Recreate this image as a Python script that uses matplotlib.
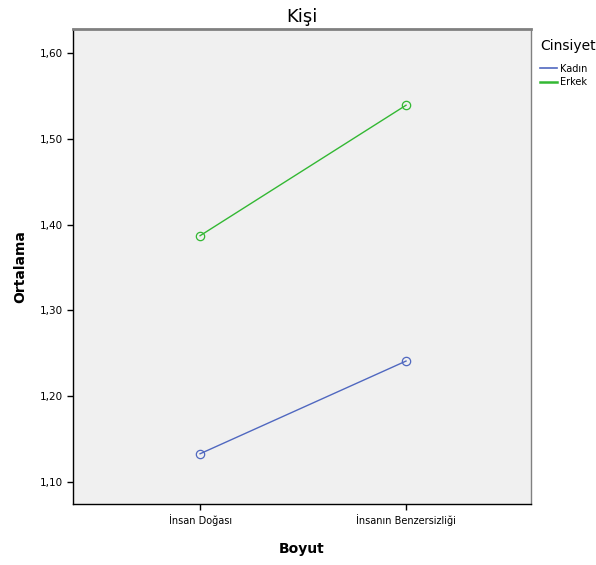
import matplotlib.pyplot as plt
from matplotlib.lines import Line2D

# Değerler (SPSS profil grafiği)
boyut = ['İnsan Doğası', 'İnsanın Benzersizliği']
kadin = [1.133, 1.241]
erkek = [1.387, 1.539]
yticks = [1.10, 1.20, 1.30, 1.40, 1.50, 1.60]

renk_kadin = '#5068c0'
renk_erkek = '#33b833'

fig = plt.figure(figsize=(5.96, 5.65), dpi=100)
ax = fig.add_axes([0.1225, 0.108, 0.7685, 0.841])
ax.set_facecolor('#f0f0f0')

x = range(len(boyut))
ax.plot(x, kadin, color=renk_kadin, lw=1, marker='o', mfc='none', ms=6, mew=0.9)
ax.plot(x, erkek, color=renk_erkek, lw=1, marker='o', mfc='none', ms=6, mew=0.9)

ax.set_xlim(-0.617, 1.607)
ax.set_ylim(1.0745, 1.628)
ax.set_xticks(list(x))
ax.set_xticklabels(boyut, fontsize=7)
ax.set_yticks(yticks)
ax.set_yticklabels([f'{v:.2f}'.replace('.', ',') for v in yticks], fontsize=7.5)
ax.tick_params(length=4, width=1)

for s in ['left', 'bottom']:
    ax.spines[s].set_color('black')
    ax.spines[s].set_linewidth(1)
ax.spines['top'].set_color('#808080')
ax.spines['top'].set_linewidth(2)
ax.spines['right'].set_color('#808080')
ax.spines['right'].set_linewidth(1)

ax.set_xlabel('Boyut', fontsize=10, fontweight='bold', labelpad=11)
ax.set_ylabel('Ortalama', fontsize=10, fontweight='bold', labelpad=9)
ax.set_title('Kişi', fontsize=13, pad=5)

handles = [Line2D([], [], color=renk_kadin, lw=1.2),
           Line2D([], [], color=renk_erkek, lw=1.8)]
leg = ax.legend(handles, ['Kadın', 'Erkek'], title='Cinsiyet', loc='upper left',
                bbox_to_anchor=(1.0, 0.998), frameon=False, fontsize=7,
                title_fontsize=10, handlelength=1.8, handletextpad=0.3,
                labelspacing=0.35, borderaxespad=0.5)
leg._legend_box.align = 'left'
leg._legend_box.sep = 8

plt.savefig('out.png', dpi=100)
